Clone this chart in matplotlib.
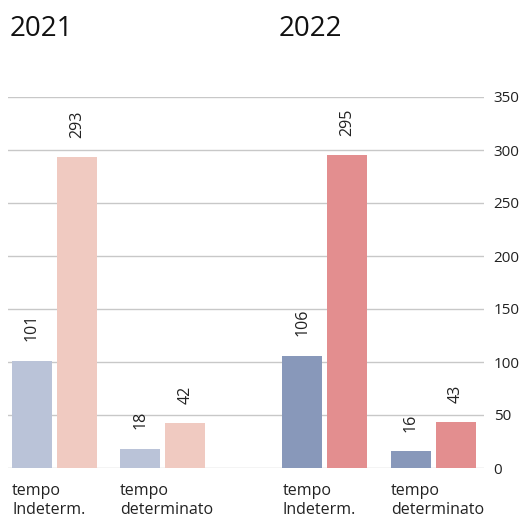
import numpy as np
from matplotlib import pyplot as plt

plt.rcParams["font.family"] = ["Open Sans", "DejaVu Sans"]

years = ["2021", "2022"]
categories = ["tempo\nIndeterm.", "tempo\ndeterminato"]
# values per year: (first series, second series) for each category
blue_2021 = [101, 18]
pink_2021 = [293, 42]
blue_2022 = [106, 16]
pink_2022 = [295, 43]
yticks = [0, 50, 100, 150, 200, 250, 300, 350]

colors = {
    "2021": ("#BAC3D8", "#F0CAC1"),
    "2022": ("#8898BA", "#E38E8F"),
}

fig = plt.figure(figsize=(5.25, 5.17), dpi=100)
ax = fig.add_axes([8 / 525, 49 / 517, 476 / 525, 371 / 517])

group_x = np.array([0.0, 1.0, 2.5, 3.5])
width = 0.37
offset = 0.208

blues = blue_2021 + blue_2022
pinks = pink_2021 + pink_2022
bar_colors = [colors["2021"]] * 2 + [colors["2022"]] * 2

for x, b, p, (cb, cp) in zip(group_x, blues, pinks, bar_colors):
    for xx, v, c in ((x - offset, b, cb), (x + offset, p, cp)):
        ax.bar(xx, v, width=width, color=c, zorder=3)
        ax.annotate(str(v), (xx, v), xytext=(0, 14), textcoords="offset points",
                    rotation=90, ha="center", va="bottom", fontsize=11.5,
                    color="#222222")

# category labels under each pair, left aligned with the first bar
for x, lab in zip(group_x, categories * 2):
    ax.annotate(lab, (x - offset - width / 2, 0), xytext=(0, -11),
                textcoords="offset points", ha="left", va="top",
                fontsize=11.5, color="#222222", linespacing=1.25)

ax.set_xlim(-0.43, 3.97)
ax.set_ylim(0, 350)
ax.set_yticks(yticks)
ax.set_xticks([])
ax.yaxis.tick_right()
ax.tick_params(axis="y", length=0, pad=7, labelsize=11, labelcolor="#222222")
ax.yaxis.grid(True, color="#C8C8C8", linewidth=1, zorder=0)
for s in ax.spines.values():
    s.set_visible(False)

fig.text(10 / 525, 1 - 36 / 517, years[0], fontsize=20, color="#111111")
fig.text(279 / 525, 1 - 36 / 517, years[1], fontsize=20, color="#111111")

plt.savefig("out.png", dpi=100)
